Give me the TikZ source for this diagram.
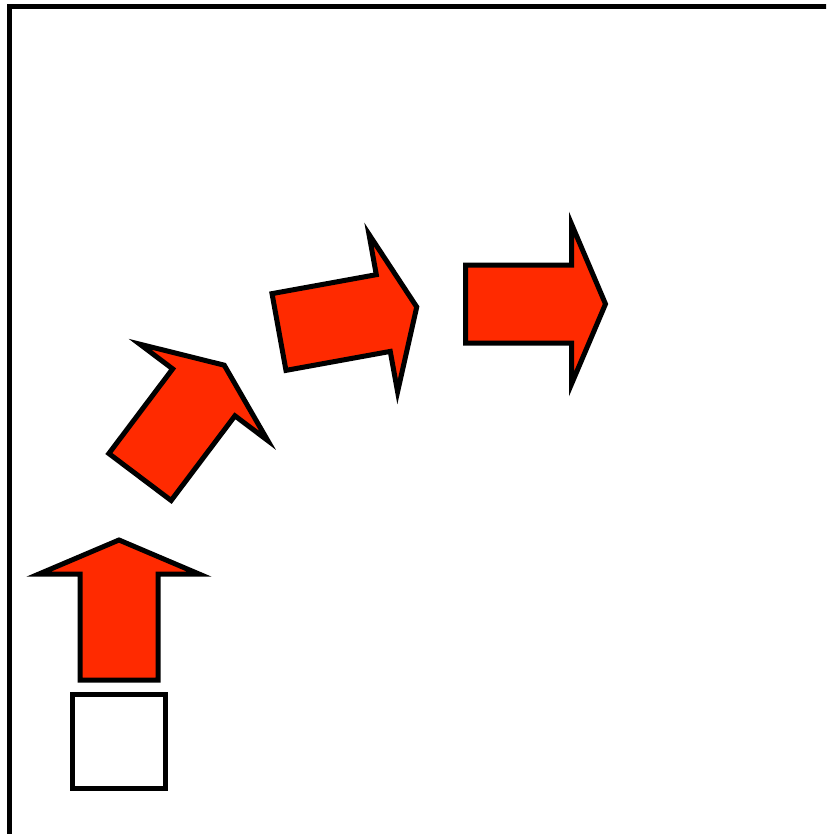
\documentclass[tikz,border=0pt]{standalone}
\definecolor{arrowred}{RGB}{255,42,0}
\tikzset{
  outline/.style={draw=black,line width=5pt,line join=miter},
  bigarrow/.pic={
    \draw[outline,fill=arrowred]
      (0,39) -- (106,39) -- (106,80) -- (140,0) -- (106,-80) -- (106,-39) -- (0,-39) -- cycle;
  }
}
\begin{document}
\begin{tikzpicture}[x=1pt,y=-1pt]
  \useasboundingbox (0,0) rectangle (826,834);
  \clip (0,0) rectangle (826,834);
  \draw[outline] (9.5,840) -- (9.5,6.5) -- (840,6.5);
  \draw[outline] (9.5,836.5) -- (840,836.5);
  \draw[outline] (72.5,694) rectangle (165.5,788.5);
  \pic[shift={(119,680)},rotate=90] {bigarrow};
  \pic[shift={(140,477)},rotate=53] {bigarrow};
  \pic[shift={(279,332)},rotate=10.3] {bigarrow};
  \pic[shift={(465.5,304)},rotate=0] {bigarrow};
\end{tikzpicture}
\end{document}
